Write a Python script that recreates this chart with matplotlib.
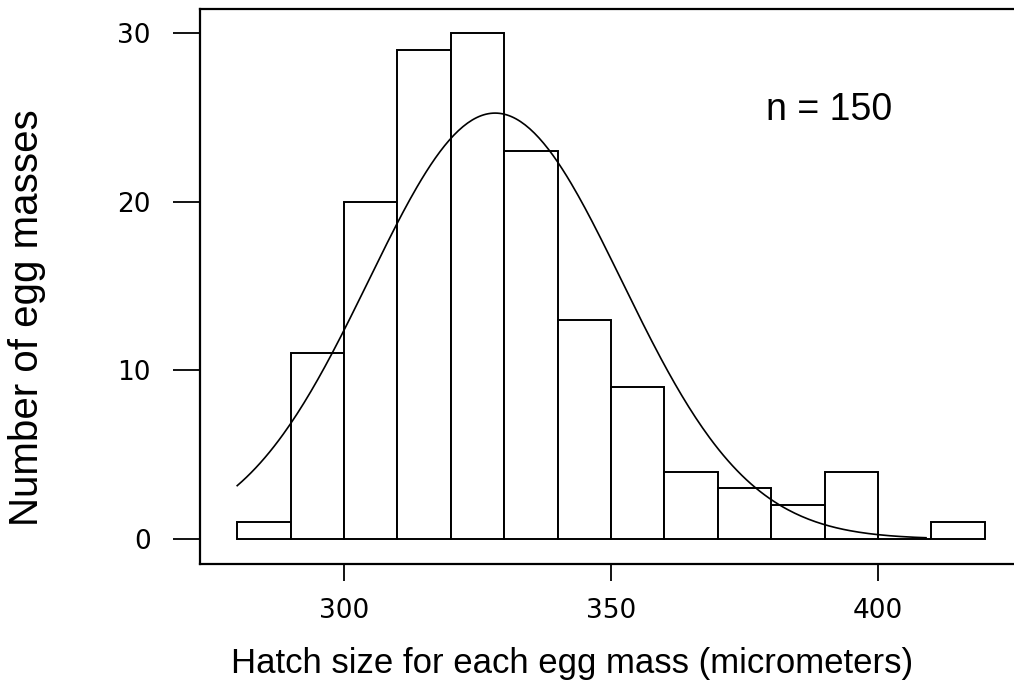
import numpy as np
import matplotlib
matplotlib.use("Agg")
import matplotlib.pyplot as plt

# Data
bin_edges = [280, 290, 300, 310, 320, 330, 340, 350, 360, 370, 380, 390, 400, 410, 420]
counts = [1, 11, 20, 29, 30, 23, 13, 9, 4, 3, 2, 4, 0, 1]
n_total = 150
fit_mean = 328.3
fit_sd = 23.7
curve_range = (280, 409)
xticks = [300, 350, 400]
yticks = [0, 10, 20, 30]

fig = plt.figure(figsize=(10.14, 7.0), dpi=100)
ax = fig.add_axes([200 / 1014, 136 / 700, 820 / 1014, 555 / 700])

edges = np.array(bin_edges, dtype=float)
ax.bar(edges[:-1], counts, width=np.diff(edges), align="edge",
       facecolor="white", edgecolor="black", linewidth=1.4)

binw = edges[1] - edges[0]
xs = np.linspace(curve_range[0], curve_range[1], 300)
ys = n_total * binw * np.exp(-0.5 * ((xs - fit_mean) / fit_sd) ** 2) / (fit_sd * np.sqrt(2 * np.pi))
ax.plot(xs, ys, color="black", linewidth=1.2)

ax.set_xlim(273.03, 426.6)
ax.set_ylim(-1.48, 31.42)

for s in ["left", "top", "bottom"]:
    ax.spines[s].set_linewidth(1.6)
ax.spines["right"].set_visible(False)

ax.set_xticks(xticks)
ax.set_yticks(yticks)
ax.tick_params(axis="x", direction="out", length=12.2, width=1.3, pad=12,
               labelsize=19)
ax.tick_params(axis="y", direction="out", length=19.4, width=1.3, pad=16,
               labelsize=19)

ax.set_xlabel("Hatch size for each egg mass (micrometers)",
              fontsize=25, family="Liberation Sans")
ax.xaxis.set_label_coords((572 - 200) / 820, -(663 - 564) / 555)
ax.xaxis.label.set_va("center")
ax.set_ylabel("Number of egg masses", fontsize=29, family="Liberation Sans")
ax.yaxis.set_label_coords(-(200 - 27) / 820, (564 - 318) / 555)
ax.yaxis.label.set_va("center")

fig.text(829 / 1014, 1 - 110 / 700, "n = 150", fontsize=27,
         family="Liberation Sans", ha="center", va="center")

fig.savefig("out.png", dpi=100)
